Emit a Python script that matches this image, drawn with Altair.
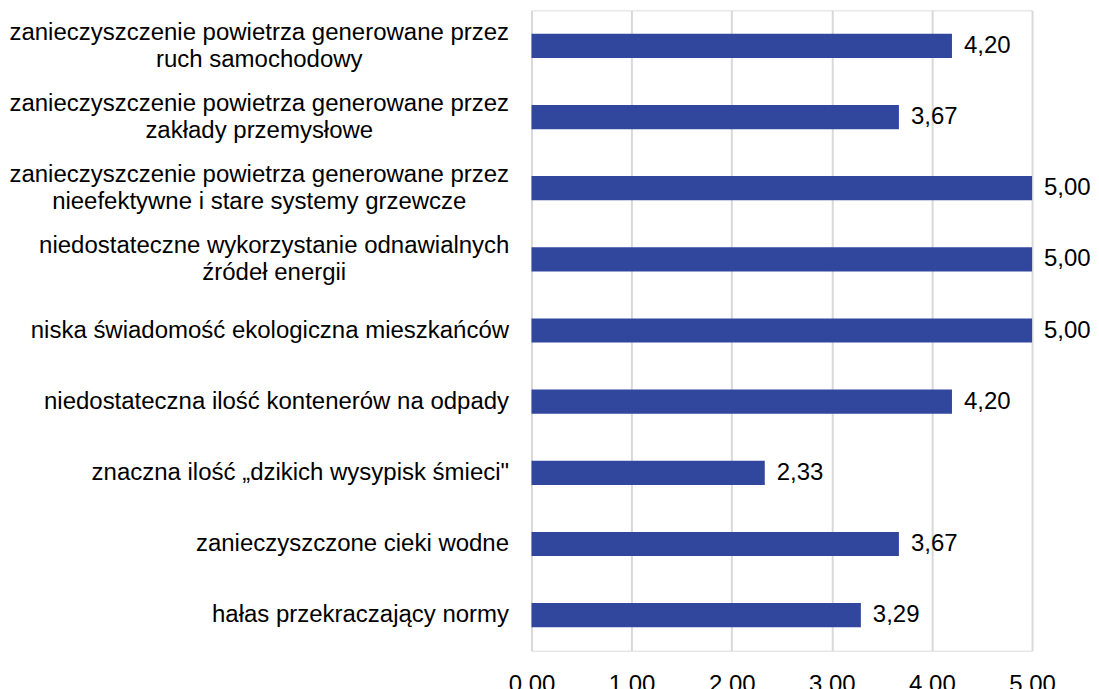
import altair as alt
import pandas as pd

categories = [
    "zanieczyszczenie powietrza generowane przez\nruch samochodowy",
    "zanieczyszczenie powietrza generowane przez\nzakłady przemysłowe",
    "zanieczyszczenie powietrza generowane przez\nnieefektywne i stare systemy grzewcze",
    "niedostateczne wykorzystanie odnawialnych\nźródeł energii",
    "niska świadomość ekologiczna mieszkańców",
    "niedostateczna ilość kontenerów na odpady",
    "znaczna ilość „dzikich wysypisk śmieci\"",
    "zanieczyszczone cieki wodne",
    "hałas przekraczający normy\u00a0",
]
values = [4.20, 3.67, 5.00, 5.00, 5.00, 4.20, 2.33, 3.67, 3.29]
x_ticks = [0, 1, 2, 3, 4, 5]

df = pd.DataFrame({"kategoria": categories, "wartosc": values})

FONT = "Liberation Sans, Arial, sans-serif"
BAR = "#31479E"

fmt = "replace(format(datum.value, '.2f'), '.', ',')"
two_line = "indexof(datum.value, '\\n') >= 0"

y_enc = alt.Y(
    "kategoria:N",
    sort=categories,
    title=None,
    scale=alt.Scale(paddingInner=0.66, paddingOuter=0.33),
    axis=alt.Axis(
        labelExpr="split(datum.label, '\\n')",
        labelFont=FONT,
        labelFontSize=24,
        labelColor="#000000",
        labelLineHeight=27,
        labelLimit=0,
        labelAlign={
            "condition": {"test": two_line, "value": "center"},
            "value": "right",
        },
        labelOffset={
            "condition": {"test": two_line, "value": -13},
            "value": 0,
        },
        labelPadding={
            "condition": [
                {"test": "indexof(datum.value, 'przez\\n') >= 0", "value": 273},
                {"test": "indexof(datum.value, 'odnawialnych\\n') >= 0", "value": 258},
            ],
            "value": 23,
        },
        ticks=False,
        tickSize=0,
        domain=False,
        grid=False,
    ),
)

x_enc = alt.X(
    "wartosc:Q",
    title=None,
    scale=alt.Scale(domain=[0, 5], nice=False),
    axis=alt.Axis(
        values=x_ticks,
        labelExpr=fmt,
        labelFont=FONT,
        labelFontSize=24,
        labelColor="#000000",
        labelPadding=22,
        labelFlush=False,
        ticks=False,
        tickSize=0,
        domain=False,
        grid=True,
        gridColor="#D9D9D9",
        gridWidth=2,
    ),
)

bars = alt.Chart(df).mark_bar(color=BAR).encode(y=y_enc, x=x_enc)

labels = (
    alt.Chart(df)
    .transform_calculate(txt="replace(format(datum.wartosc, '.2f'), '.', ',')")
    .mark_text(align="left", baseline="middle", dx=12, font=FONT, fontSize=24, color="#000000")
    .encode(y=alt.Y("kategoria:N", sort=categories), x=alt.X("wartosc:Q"), text="txt:N")
)

chart = (
    alt.layer(bars, labels)
    .properties(width=501, height=641, padding={"left": 0, "top": 2, "right": 0, "bottom": 0})
    .configure_view(stroke=None)
    .configure(background="#FFFFFF")
)

chart.save("out.html", embed_options={"renderer": "svg", "actions": False})
